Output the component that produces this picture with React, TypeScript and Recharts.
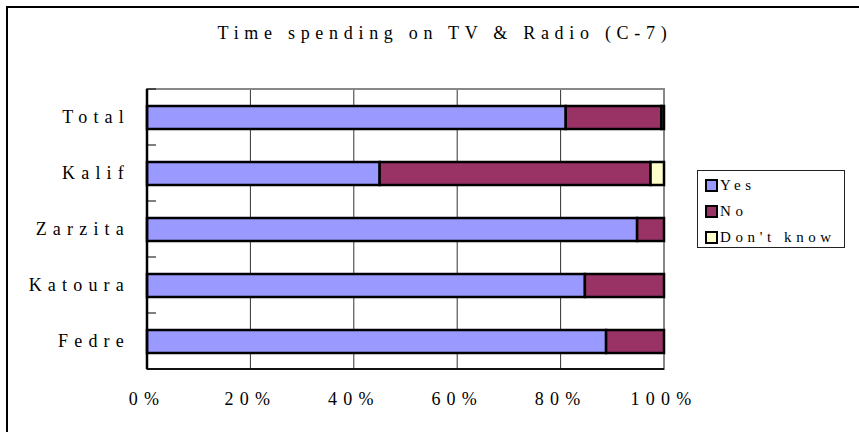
import React from 'react';
import { BarChart, Bar, XAxis, YAxis, CartesianGrid, ReferenceArea, Legend } from 'recharts';

const categories = ['Total', 'Kalif', 'Zarzita', 'Katoura', 'Fedre'];
const yesValues = [81.0, 45.0, 94.8, 84.7, 88.8];
const noValues = [18.5, 52.4, 5.2, 15.3, 11.2];
const dontKnowValues = [0.5, 2.6, 0, 0, 0];
const xTicks = [0, 20, 40, 60, 80, 100];
const seriesNames = ['Yes', 'No', "Don't know"];
const seriesKeys = ['yes', 'no', 'dk'];
const colors = ['#9999FF', '#993366', '#FFFFCC'];

const data = categories.map((c, i) => ({
  name: c,
  yes: yesValues[i],
  no: noValues[i],
  dk: dontKnowValues[i],
}));

const FONT = '"Liberation Serif", "Times New Roman", serif';
const Y_TICK_SIZE = 6;
const Y_TICK_MARGIN = 11;
const LS = 6.2;

const CategoryTick = (props: any) => {
  const { x, y, payload } = props;
  const axisX = x + Y_TICK_SIZE + Y_TICK_MARGIN;
  const half = payload && typeof payload.offset === 'number' ? payload.offset : 0;
  return (
    <g>
      <line x1={axisX} x2={axisX + 9} y1={y - half} y2={y - half} stroke="#000" strokeWidth={1} />
      <text
        x={x}
        y={y}
        textAnchor="end"
        dominantBaseline="central"
        fontFamily={FONT}
        fontSize={18}
        fill="#000"
        letterSpacing={LS}
      >
        {payload.value}
      </text>
    </g>
  );
};

const renderLegend = () => (
  <div
    style={{
      border: '1px solid #222',
      width: 148,
      height: 78,
      boxSizing: 'border-box',
      paddingTop: 1,
      paddingLeft: 7,
      fontFamily: FONT,
      fontSize: 15,
      letterSpacing: 4.6,
      color: '#000',
      background: '#fff',
    }}
  >
    {seriesNames.map((n, i) => (
      <div key={n} style={{ display: 'flex', alignItems: 'center', height: 26 }}>
        <span
          style={{
            display: 'inline-block',
            width: 9,
            height: 9,
            border: '2px solid #000',
            background: colors[i],
            marginRight: 2,
          }}
        />
        <span>{n}</span>
      </div>
    ))}
  </div>
);

export default function App() {
  return (
    <div style={{ position: 'absolute', left: 0, top: 0, width: 859, height: 432, overflow: 'hidden', background: '#fff' }}>
      <div
        style={{
          position: 'absolute',
          left: 6,
          top: 6,
          width: 1000,
          height: 1000,
          borderLeft: '2px solid #000',
          borderTop: '2px solid #000',
        }}
      />
      <div
        style={{
          position: 'absolute',
          left: 0,
          width: 890,
          top: 23,
          textAlign: 'center',
          fontFamily: FONT,
          fontSize: 18,
          letterSpacing: 5.7,
          color: '#000',
        }}
      >
        Time spending on TV &amp; Radio (C-7)
      </div>
      <div style={{ position: 'absolute', left: 0, top: 0 }}>
        <BarChart
          width={859}
          height={432}
          data={data}
          layout="vertical"
          margin={{ top: 89, right: 195, bottom: 23, left: 0 }}
          barSize={23}
        >
          <CartesianGrid horizontal={false} vertical={true} stroke="#333" strokeWidth={1} />
          <ReferenceArea x1={0} x2={100} fill="none" stroke="#888" strokeWidth={2} ifOverflow="visible" />
          <XAxis
            type="number"
            domain={[0, 100]}
            ticks={xTicks}
            tickFormatter={(v: number) => `${v}%`}
            tickLine={false}
            axisLine={{ stroke: '#111', strokeWidth: 2 }}
            height={40}
            tickMargin={17}
            tick={{ fontFamily: FONT, fontSize: 18, fill: '#000', letterSpacing: 6.2 }}
            interval={0}
          />
          <YAxis
            type="category"
            dataKey="name"
            width={147}
            tickLine={false}
            tickSize={Y_TICK_SIZE}
            axisLine={{ stroke: '#000', strokeWidth: 2.5 }}
            tickMargin={Y_TICK_MARGIN}
            tick={<CategoryTick />}
            interval={0}
          />
          <Legend
            layout="horizontal"
            align="center"
            verticalAlign="middle"
            content={renderLegend}
            wrapperStyle={{ position: 'absolute', left: 697, top: 170, width: 148, height: 78 }}
          />
          {seriesKeys.map((k, i) => (
            <Bar
              key={k}
              dataKey={k}
              name={seriesNames[i]}
              stackId="a"
              fill={colors[i]}
              stroke="#000"
              strokeWidth={2.5}
              isAnimationActive={false}
            />
          ))}
        </BarChart>
      </div>
    </div>
  );
}
